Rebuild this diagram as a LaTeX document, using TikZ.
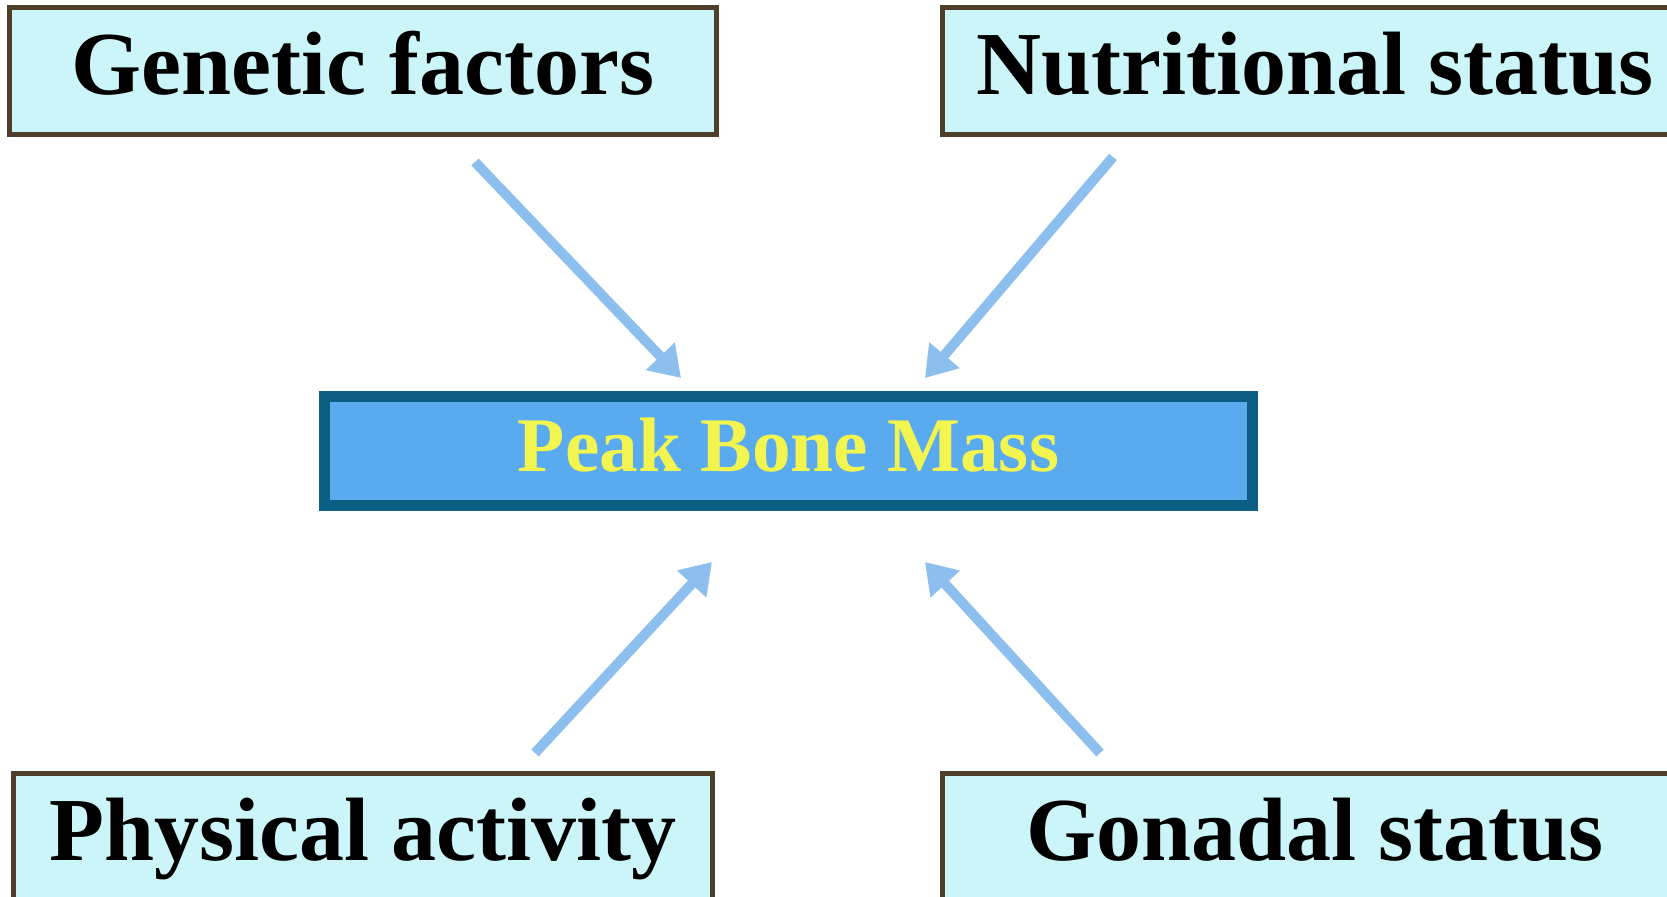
\documentclass[tikz,border=0pt]{standalone}
\usepackage{fontspec}
\setmainfont{Liberation Serif}
\usepackage{tikz}
\usetikzlibrary{arrows.meta, positioning, calc}
\definecolor{boxBrown}{HTML}{4E3F2A}
\definecolor{boxCyan}{HTML}{CCF5FA}
\definecolor{peakBlue}{HTML}{5AAAF0}
\definecolor{peakTeal}{HTML}{0B5E82}
\definecolor{peakYellow}{HTML}{F2F550}
\definecolor{arrowBlue}{HTML}{8CBFEE}

\begin{document}
\begin{tikzpicture}[
  factor/.style={fill=boxCyan, draw=boxBrown, line width=0.05cm, inner sep=0pt,
    minimum width=7.07cm, minimum height=1.27cm, text height=0.68cm, text depth=0.2cm,
    font=\bfseries\fontsize{25.6}{30}\selectfont},
  peak/.style={fill=peakBlue, draw=peakTeal, line width=0.11cm, inner sep=0pt,
    minimum width=9.28cm, minimum height=1.09cm, text height=0.6cm, text depth=0.18cm,
    text=peakYellow, font=\bfseries\fontsize{22}{26}\selectfont},
  flow/.style={arrowBlue, line width=0.1cm, -{Triangle[width=0.38cm, length=0.3cm]}}
]
  \useasboundingbox (0,0) rectangle (16.67,8.97);
  \clip (0,0) rectangle (16.67,8.97);
  \fill[white] (0,0) rectangle (16.67,8.97);

  % the four factors
  \node[factor] (gen) at (3.63, 8.26) {Genetic factors};
  \node[factor, minimum width=7.45cm] (nut) at (13.15, 8.26) {Nutritional status};
  \node[factor, minimum width=6.99cm] (phy) at (3.63, 0.60) {Physical activity};
  \node[factor, minimum width=7.45cm] (gon) at (13.15, 0.60) {Gonadal status};

  % centre
  \node[peak] (pbm) at (7.885, 4.46) {Peak Bone Mass};

  \draw[flow] ([xshift=1.12cm, yshift=-0.25cm]gen.south) -- ([xshift=-1.075cm, yshift=0.13cm]pbm.north);
  \draw[flow] ([xshift=-2.02cm, yshift=-0.2cm]nut.south) -- ([xshift=1.365cm, yshift=0.13cm]pbm.north);
  \draw[flow] ([xshift=1.72cm, yshift=0.18cm]phy.north) -- ([xshift=-0.765cm, yshift=-0.51cm]pbm.south);
  \draw[flow] ([xshift=-2.15cm, yshift=0.18cm]gon.north) -- ([xshift=1.365cm, yshift=-0.51cm]pbm.south);
\end{tikzpicture}
\end{document}
